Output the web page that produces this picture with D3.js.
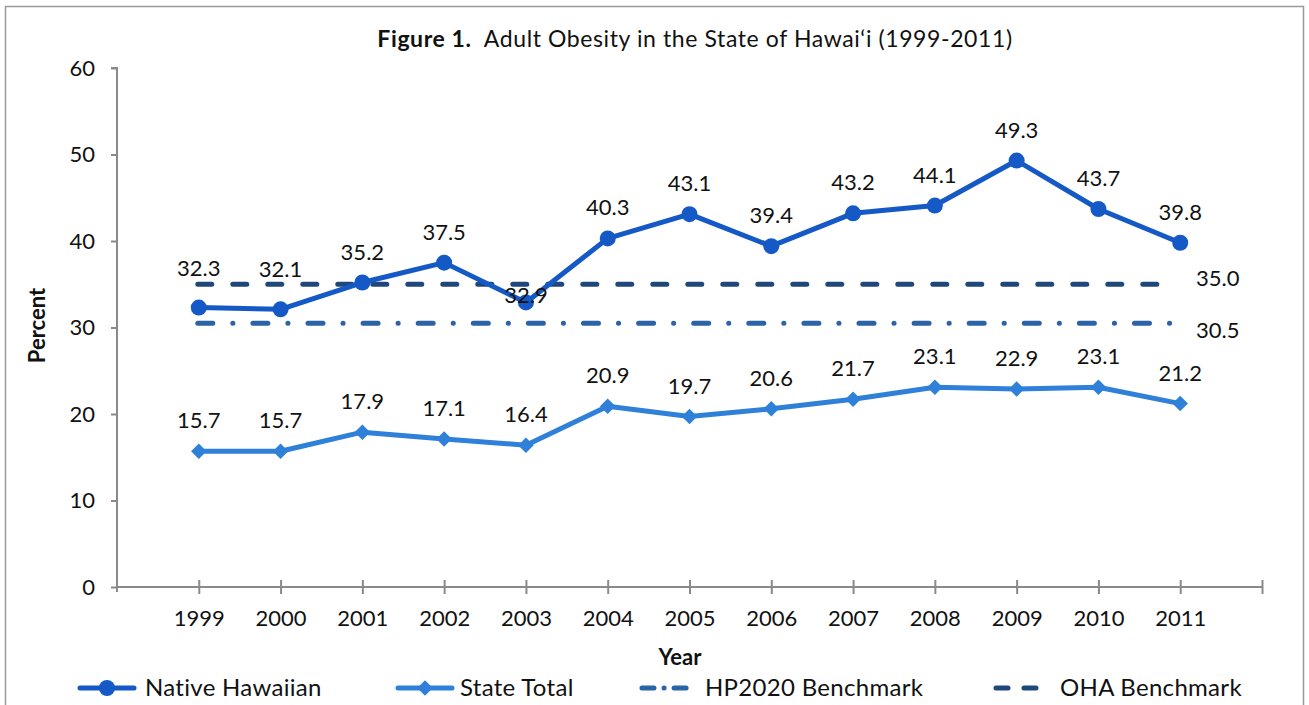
<!DOCTYPE html>
<html>
<head>
<meta charset="utf-8">
<script src="https://cdn.jsdelivr.net/npm/d3@7"></script>
<style>
  body { margin: 0; background: #fff; }
  svg { display: block; font-family: Lato, "Open Sans", sans-serif; }
</style>
</head>
<body>
<svg id="chart" width="1309" height="705"></svg>
<script>
const years = [1999, 2000, 2001, 2002, 2003, 2004, 2005, 2006, 2007, 2008, 2009, 2010, 2011];
const nativeHawaiian = [32.3, 32.1, 35.2, 37.5, 32.9, 40.3, 43.1, 39.4, 43.2, 44.1, 49.3, 43.7, 39.8];
const stateTotal = [15.7, 15.7, 17.9, 17.1, 16.4, 20.9, 19.7, 20.6, 21.7, 23.1, 22.9, 23.1, 21.2];
const hp2020 = 30.5;
const oha = 35.0;
const yTicks = [0, 10, 20, 30, 40, 50, 60];
const legendNames = ['Native Hawaiian', 'State Total', 'HP2020 Benchmark', 'OHA Benchmark'];

const svg = d3.select('#chart');

const colNH = '#1559c6';
const colST = '#2e80d8';
const colHP = '#2b63a6';
const colOHA = '#1f477a';
const axisCol = '#8a8a8a';

// outer frame
svg.append('rect')
    .attr('x', 5.5).attr('y', 6.5).attr('width', 1298).attr('height', 710)
    .attr('fill', 'none').attr('stroke', '#9a9a9a').attr('stroke-width', 1.5);

const x = d3.scaleLinear().domain([1998, 2012]).range([117, 1262]);
const y = d3.scaleLinear().domain([0, 60]).range([587, 68]);

// title
const title = svg.append('text')
    .attr('x', 695).attr('y', 47).attr('text-anchor', 'middle')
    .attr('font-size', 23).attr('letter-spacing', 0.6).attr('fill', '#111')
    .attr('xml:space', 'preserve');
title.append('tspan').attr('font-weight', 'bold').text('Figure 1.');
title.append('tspan').text('\u00a0 Adult Obesity in the State of Hawai\u2018i (1999-2011)');

// y axis
const yAxis = d3.axisLeft(y).tickValues(yTicks).tickSize(6).tickPadding(16);
const gy = svg.append('g').attr('transform', `translate(${x(1998)},0)`).call(yAxis);
gy.select('.domain').attr('stroke', axisCol).attr('stroke-width', 2).attr('d', `M-6,${y(60)}H0V${y(0) + 5}`);
gy.selectAll('.tick line').attr('stroke', axisCol).attr('stroke-width', 2);
gy.selectAll('.tick text').attr('font-size', 22).attr('fill', '#111')
    .attr('font-family', 'Lato, sans-serif');

// x axis
const xAxis = d3.axisBottom(x).tickValues(years.concat([2012])).tickSize(7).tickFormat(d => d === 2012 ? '' : d);
const gx = svg.append('g').attr('transform', `translate(0,${y(0)})`).call(xAxis);
gx.select('.domain').attr('stroke', axisCol).attr('stroke-width', 2).attr('d', `M${x(1998)},0H${x(2012)}`);
gx.selectAll('.tick line').attr('stroke', axisCol).attr('stroke-width', 2).attr('y1', -7).attr('y2', 7);
gx.selectAll('.tick text').attr('font-size', 22).attr('fill', '#111').attr('y', 39).attr('dy', null)
    .attr('font-family', 'Lato, sans-serif');

// axis titles
svg.append('text')
    .attr('transform', `translate(45,${(y(0) + y(60)) / 2 - 2}) rotate(-90)`)
    .attr('text-anchor', 'middle').attr('font-size', 22).attr('font-weight', 'bold').attr('fill', '#111')
    .text('Percent');
svg.append('text')
    .attr('x', 680).attr('y', 665).attr('text-anchor', 'middle')
    .attr('font-size', 22).attr('font-weight', 'bold').attr('fill', '#111')
    .text('Year');

// benchmarks
const bench = [
    { v: oha, color: colOHA, dash: '14,21', labelDy: 2 },
    { v: hp2020, color: colHP, dash: '15,20,0.1,20', labelDy: 15 }
];
bench.forEach(b => {
    svg.append('line')
        .attr('x1', x(1999) - 1).attr('x2', x(2011) - 8)
        .attr('y1', y(b.v)).attr('y2', y(b.v))
        .attr('stroke', b.color).attr('stroke-width', 5)
        .attr('stroke-linecap', 'round').attr('stroke-dasharray', b.dash);
    svg.append('text')
        .attr('x', 1196).attr('y', y(b.v) + b.labelDy)
        .attr('font-size', 22).attr('fill', '#111')
        .text(b.v.toFixed(1));
});

const line = d3.line().x((d, i) => x(years[i])).y(d => y(d));

// state total
svg.append('path').datum(stateTotal)
    .attr('d', line).attr('fill', 'none').attr('stroke', colST).attr('stroke-width', 5)
    .attr('stroke-linejoin', 'round');
svg.append('g').selectAll('path').data(stateTotal).join('path')
    .attr('d', d3.symbol().type(d3.symbolSquare).size(120))
    .attr('transform', (d, i) => `translate(${x(years[i])},${y(d)}) rotate(45)`)
    .attr('fill', colST);

// native hawaiian
svg.append('path').datum(nativeHawaiian)
    .attr('d', line).attr('fill', 'none').attr('stroke', colNH).attr('stroke-width', 5)
    .attr('stroke-linejoin', 'round');
svg.append('g').selectAll('circle').data(nativeHawaiian).join('circle')
    .attr('cx', (d, i) => x(years[i])).attr('cy', d => y(d)).attr('r', 8)
    .attr('fill', colNH);

// data labels (NH labels near the OHA line are moved off it)
const nudge = (series, i) => {
    if (series !== nativeHawaiian) return 0;
    if (i < 2) return -9;
    if (i === 4) return 24;
    return 0;
};
[nativeHawaiian, stateTotal].forEach(series => {
    svg.append('g').selectAll('text').data(series).join('text')
        .attr('x', (d, i) => x(years[i])).attr('y', (d, i) => y(d) - 23 + nudge(series, i))
        .attr('text-anchor', 'middle').attr('font-size', 22).attr('fill', '#111')
        .text(d => d.toFixed(1));
});

// legend
const legendY = 688;
const legendItems = [
    { x: 80, color: colNH, dash: null, marker: 'circle', tx: 145 },
    { x: 398, color: colST, dash: null, marker: 'diamond', tx: 460 },
    { x: 642, color: colHP, dash: '12,10,0.1,10', marker: null, tx: 705 },
    { x: 996, color: colOHA, dash: '12,16', marker: null, tx: 1060 }
];
legendItems.forEach((it, k) => {
    const g = svg.append('g');
    g.append('line')
        .attr('x1', it.x).attr('x2', it.x + 54)
        .attr('y1', legendY).attr('y2', legendY)
        .attr('stroke', it.color).attr('stroke-width', 5)
        .attr('stroke-linecap', 'round')
        .attr('stroke-dasharray', it.dash);
    if (it.marker === 'circle') {
        g.append('circle').attr('cx', it.x + 27).attr('cy', legendY).attr('r', 8).attr('fill', it.color);
    } else if (it.marker === 'diamond') {
        g.append('path')
            .attr('d', d3.symbol().type(d3.symbolSquare).size(120))
            .attr('transform', `translate(${it.x + 27},${legendY}) rotate(45)`)
            .attr('fill', it.color);
    }
    g.append('text')
        .attr('x', it.tx).attr('y', legendY + 8)
        .attr('font-size', 24).attr('letter-spacing', 0.3).attr('fill', '#111')
        .text(legendNames[k]);
});
</script>
</body>
</html>
